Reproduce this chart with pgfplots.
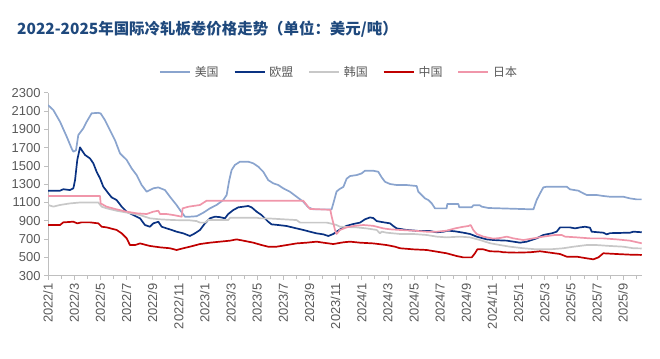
\documentclass[border=0pt]{standalone}
\usepackage{pgfplots}
\pgfplotsset{compat=1.18}
\usepackage{fontspec}
\setmainfont{Liberation Sans}
\newfontfamily\cjk{Noto Sans CJK SC}
\definecolor{usc}{RGB}{138,164,206}
\definecolor{euc}{RGB}{10,50,130}
\definecolor{krc}{RGB}{200,200,200}
\definecolor{cnc}{RGB}{192,0,0}
\definecolor{jpc}{RGB}{240,150,170}
\definecolor{titlec}{RGB}{31,73,125}
\definecolor{txtc}{RGB}{89,89,89}
\definecolor{axc}{RGB}{191,191,191}
\begin{document}
\begin{tikzpicture}
\path[use as bounding box] (0,0) rectangle (660bp,359bp);
\node[anchor=west, text=titlec, font=\cjk\bfseries\fontsize{15.5}{16}\selectfont, inner sep=0] at (17bp,330bp) {2022-2025年国际冷轧板卷价格走势（单位：美元/吨）};
\begin{axis}[
  at={(48bp,83.3bp)}, anchor=south west,
  scale only axis, width=594bp, height=183bp,
  xmin=0, xmax=45.45, ymin=300, ymax=2300,
  axis x line*=bottom, axis y line*=left,
  axis line style={axc, line width=0.8bp},
  ytick={300,500,...,2300},
  xtick={0,2,...,44},
  xticklabels={2022/1,2022/3,2022/5,2022/7,2022/9,2022/11,2023/1,2023/3,2023/5,2023/7,2023/9,2023/11,2024/1,2024/3,2024/5,2024/7,2024/9,2024/11,2025/1,2025/3,2025/5,2025/7,2025/9},
  minor xtick={1,3,...,45},
  tick align=outside, major tick length=4bp, minor tick length=3bp,
  tick style={axc, line width=0.6bp},
  /pgf/number format/assume math mode=true,
  /pgf/number format/1000 sep={},
  xticklabel style={rotate=90, anchor=east, font=\fontsize{13}{13}\selectfont, text=txtc},
  yticklabel style={font=\fontsize{13}{13}\selectfont, text=txtc},
  legend style={at={(0.49,1.113)}, anchor=center, draw=none, fill=none, legend columns=5,
    font=\cjk\fontsize{12}{12}\selectfont, text=txtc,
    /tikz/every even column/.append style={column sep=13bp},
    /tikz/every odd column/.append style={column sep=2bp}},
  legend image code/.code={\draw[#1] (0bp,0bp) -- (30bp,0bp);},
  every axis plot/.append style={line width=1.7bp, line join=round},
]
\addplot[usc] coordinates {(0,2165)(0.41,2110)(0.92,1983)(1.43,1820)(1.81,1690)(1.94,1655)(2.14,1670)(2.32,1837)(2.70,1910)(2.96,1983)(3.34,2075)(3.85,2080)(4.03,2073)(4.36,2000)(4.74,1890)(5.13,1780)(5.51,1637)(6.02,1565)(6.40,1473)(6.78,1400)(7.17,1290)(7.55,1218)(8.06,1255)(8.44,1265)(8.95,1236)(9.33,1163)(9.84,1072)(10.10,1018)(10.48,945)(10.86,945)(11.37,950)(11.88,988)(12.39,1036)(12.90,1073)(13.41,1127)(13.67,1182)(13.87,1345)(14.05,1455)(14.30,1510)(14.69,1546)(15.32,1546)(15.71,1528)(16.09,1491)(16.47,1436)(16.85,1345)(17.24,1309)(17.62,1291)(18.00,1255)(18.51,1218)(19.02,1163)(19.53,1109)(19.92,1047)(20.30,1025)(21.70,1025)(21.83,1090)(22.08,1220)(22.34,1250)(22.60,1270)(22.85,1360)(23.11,1389)(23.62,1400)(24.00,1418)(24.25,1447)(24.89,1447)(25.27,1436)(25.53,1375)(25.78,1327)(26.17,1302)(26.68,1291)(27.44,1291)(28.21,1280)(28.33,1218)(28.59,1182)(28.85,1145)(29.10,1127)(29.36,1091)(29.61,1036)(30.50,1036)(30.55,1083)(31.40,1083)(31.47,1047)(32.42,1047)(32.54,1069)(33.05,1069)(33.18,1055)(33.69,1040)(37.14,1025)(37.39,1127)(37.65,1200)(37.90,1265)(38.16,1273)(39.69,1273)(39.94,1244)(40.58,1229)(40.96,1200)(41.22,1182)(41.98,1182)(42.49,1171)(43.00,1163)(44.02,1163)(44.53,1145)(45.04,1134)(45.43,1134)};
\addlegendentry{美国}
\addplot[euc] coordinates {(0,1229)(0.92,1229)(1.17,1245)(1.68,1236)(1.94,1255)(2.07,1345)(2.24,1565)(2.45,1703)(2.57,1675)(2.83,1620)(3.21,1582)(3.47,1528)(3.72,1436)(3.98,1364)(4.23,1273)(4.62,1200)(4.87,1156)(5.25,1127)(5.64,1054)(6.02,1000)(6.53,963)(7.04,927)(7.42,854)(7.80,835)(8.06,872)(8.44,890)(8.70,835)(9.08,817)(9.46,800)(9.84,781)(10.35,763)(10.86,734)(11.24,763)(11.63,800)(12.01,872)(12.39,927)(12.77,945)(13.16,940)(13.54,927)(13.79,974)(14.18,1018)(14.56,1047)(14.94,1054)(15.32,1062)(15.58,1047)(15.96,1000)(16.34,963)(16.85,890)(17.11,861)(17.62,854)(18.26,843)(19.02,817)(19.53,800)(20.04,781)(20.55,763)(21.06,752)(21.45,734)(21.83,756)(22.08,781)(22.47,817)(22.85,845)(23.36,865)(23.87,880)(24.25,916)(24.64,937)(24.89,930)(25.15,897)(25.53,887)(26.17,872)(26.42,843)(26.68,817)(27.44,800)(28.46,788)(29.23,788)(29.74,774)(30.25,781)(30.63,792)(31.14,785)(31.78,770)(32.29,756)(32.80,727)(33.56,697)(34.07,690)(34.58,686)(35.10,683)(35.61,672)(36.12,661)(36.63,672)(37.39,708)(37.90,745)(38.54,763)(38.92,781)(39.18,828)(39.94,828)(40.33,817)(40.71,828)(41.09,835)(41.47,825)(41.60,781)(42.49,770)(42.75,752)(43.00,765)(44.53,770)(44.79,781)(45.43,775)};
\addlegendentry{欧盟}
\addplot[krc] coordinates {(0,1073)(0.41,1055)(0.92,1073)(1.68,1090)(2.45,1100)(3.85,1100)(4.11,1054)(4.49,1036)(5.25,1010)(6.02,990)(7.04,963)(7.80,927)(8.57,916)(9.59,908)(10.86,905)(11.37,897)(11.63,880)(12.01,880)(12.26,908)(13.79,908)(13.93,934)(15.96,934)(16.22,927)(17.00,925)(19.02,908)(19.29,880)(21.32,880)(21.58,872)(22.08,854)(22.34,835)(23.62,828)(24.38,817)(25.15,800)(25.40,763)(25.53,781)(25.91,770)(26.93,756)(27.95,756)(28.97,745)(29.74,727)(30.50,719)(31.52,727)(32.29,719)(33.05,690)(33.82,655)(34.59,635)(35.35,617)(36.37,600)(37.39,588)(38.41,588)(39.43,600)(40.20,617)(41.22,635)(41.98,635)(43.00,625)(44.02,617)(44.79,600)(45.43,598)};
\addlegendentry{韩国}
\addplot[cnc] coordinates {(0,854)(0.92,854)(1.17,883)(1.94,890)(2.24,872)(2.57,883)(3.21,883)(3.85,872)(4.11,835)(4.49,828)(5.25,800)(5.64,763)(6.02,708)(6.27,635)(6.66,635)(7.04,653)(7.80,625)(8.57,610)(9.33,600)(9.84,581)(10.35,600)(10.86,617)(11.63,646)(12.39,661)(13.16,672)(13.93,683)(14.43,697)(14.94,683)(15.71,661)(16.34,635)(16.85,617)(17.49,617)(18.26,635)(19.02,653)(19.79,661)(20.55,672)(21.06,661)(21.83,646)(22.60,665)(23.11,672)(23.87,661)(24.89,653)(25.91,635)(26.55,617)(26.93,600)(27.95,588)(28.97,581)(29.74,563)(30.50,545)(31.27,515)(31.78,500)(32.42,500)(32.67,545)(32.85,588)(33.31,588)(33.82,567)(34.58,563)(34.84,556)(35.86,552)(36.88,556)(37.65,567)(38.41,552)(39.18,537)(39.69,508)(40.45,508)(41.22,490)(41.73,479)(42.11,500)(42.49,545)(43.51,537)(44.53,530)(45.43,527)};
\addlegendentry{中国}
\addplot[jpc] coordinates {(0,1170)(3.98,1170)(4.03,1090)(4.49,1054)(5.25,1025)(6.02,1000)(6.78,982)(7.55,974)(8.06,1000)(8.44,1010)(8.57,974)(9.08,974)(9.59,963)(10.23,945)(10.30,1036)(10.74,1054)(11.12,1062)(11.63,1073)(12.14,1120)(19.53,1120)(19.79,1073)(20.04,1030)(21.60,1020)(21.70,950)(21.96,800)(22.08,756)(22.34,800)(22.85,828)(23.36,843)(24.13,854)(24.89,845)(25.66,817)(26.17,807)(26.93,800)(27.95,792)(28.97,781)(29.74,781)(30.50,792)(31.14,817)(31.78,835)(32.16,843)(32.34,854)(32.54,800)(32.80,756)(33.31,727)(34.07,705)(34.59,712)(35.10,727)(35.61,708)(36.37,690)(37.14,708)(37.90,727)(38.80,745)(39.30,745)(39.56,727)(40.45,719)(41.47,708)(42.49,708)(43.51,697)(44.53,683)(45.43,654)};
\addlegendentry{日本}
\end{axis}
\end{tikzpicture}
\end{document}
